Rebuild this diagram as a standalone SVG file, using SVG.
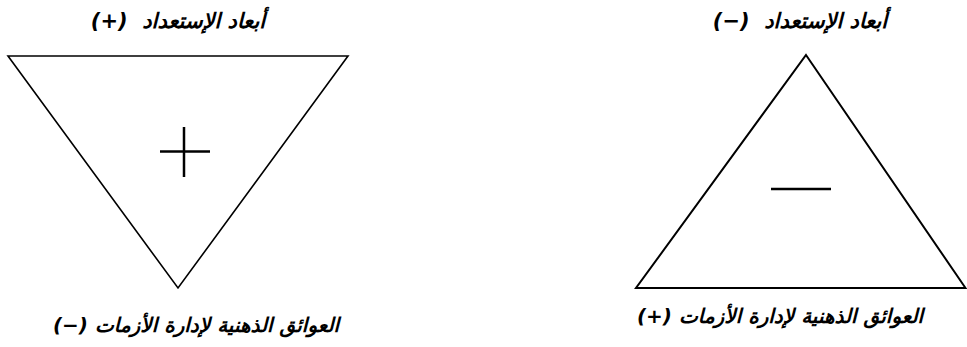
<svg xmlns="http://www.w3.org/2000/svg" width="967" height="347" viewBox="0 0 967 347">
<style>
.lbl{font-family:"DejaVu Sans","Noto Sans",sans-serif;font-weight:bold;font-style:italic;font-size:20px;fill:#000;text-anchor:middle;direction:rtl}
.top{font-size:21px}
.tri{fill:#fff;stroke:#000;stroke-width:1.6}
.sym{stroke:#000;stroke-width:2.5;fill:none}
</style>
<rect width="967" height="347" fill="#fff"/>
<g id="left-triangle">
<polygon class="tri" points="8,56 348,56 178,288"/>
<line class="sym" x1="160" y1="151.5" x2="210" y2="151.5"/>
<line class="sym" x1="184" y1="127" x2="184" y2="177"/>
</g>
<g id="right-triangle">
<polygon class="tri" points="806,55 965.5,288 636,288" style="stroke-width:2"/>
<line class="sym" x1="771" y1="189" x2="831" y2="189"/>
</g>
<g id="labels">
<text class="lbl top" x="178" y="28" direction="rtl" xml:space="preserve">أبعاد الإستعداد  (+)</text>
<text class="lbl top" x="800" y="28" direction="rtl" xml:space="preserve">أبعاد الإستعداد  (−)</text>
<text class="lbl" x="196" y="332" direction="rtl">العوائق الذهنية لإدارة الأزمات (−)</text>
<text class="lbl" x="780" y="323" direction="rtl">العوائق الذهنية لإدارة الأزمات (+)</text>
</g>
</svg>
